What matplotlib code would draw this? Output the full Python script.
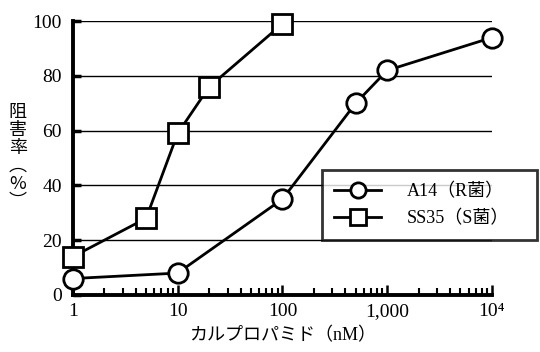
import matplotlib
matplotlib.use('Agg')
import matplotlib.pyplot as plt
from matplotlib.ticker import FixedLocator, LogLocator, NullFormatter

plt.rcParams['font.family'] = ['Liberation Serif', 'Noto Sans CJK JP', 'DejaVu Sans']

# A14 (R strain)
a14_conc = [1, 10, 100, 500, 1000, 10000]
a14_inhib = [6, 8, 35, 70, 82, 94]
# SS35 (S strain)
ss35_conc = [1, 5, 10, 20, 100]
ss35_inhib = [14, 28, 59, 76, 99]

yticks = [0, 20, 40, 60, 80, 100]
xticks = [1, 10, 100, 1000, 10000]
xticklabels = ['1', '10', '100', '1,000', '10⁴']

fig = plt.figure(figsize=(5.4, 3.52), dpi=100)
ax = fig.add_axes([0.135, 0.162, 0.776, 0.778])

for y in yticks[1:]:
    ax.axhline(y, color='black', lw=1.0, zorder=1)

ax.plot(ss35_conc, ss35_inhib, color='black', lw=2.0, marker='s', ms=14,
        mfc='white', mec='black', mew=2.0, clip_on=False, zorder=3,
        label='SS35（S菌）')
ax.plot(a14_conc, a14_inhib, color='black', lw=2.0, marker='o', ms=14,
        mfc='white', mec='black', mew=2.0, clip_on=False, zorder=3,
        label='A14（R菌）')

ax.set_xscale('log')
ax.set_xlim(1, 10000)
ax.set_ylim(0, 100)
ax.xaxis.set_major_locator(FixedLocator(xticks))
ax.set_xticklabels(xticklabels)
ax.xaxis.set_minor_locator(LogLocator(base=10, subs=range(2, 10)))
ax.xaxis.set_minor_formatter(NullFormatter())
ax.set_yticks(yticks)

for s in ['top', 'right']:
    ax.spines[s].set_visible(False)
for s in ['left', 'bottom']:
    ax.spines[s].set_linewidth(2.8)

ax.tick_params(axis='x', which='major', direction='in', length=7, width=1.8,
               labelsize=14, pad=6)
ax.tick_params(axis='x', which='minor', direction='in', length=5, width=1.5)
ax.tick_params(axis='y', direction='in', length=6, width=2.5, labelsize=14, pad=8)

ax.set_xlabel('カルプロパミド（nM）', fontsize=13, labelpad=5)

fig.text(0.033, 0.555, '阻\n害\n率\n︵\n%\n︶', fontsize=13, ha='center',
         va='center', linespacing=1.0,
         family=['Noto Sans CJK JP', 'DejaVu Sans'])

h, l = ax.get_legend_handles_labels()
leg = fig.legend(h[::-1], l[::-1], loc='upper left', mode='expand',
                 bbox_to_anchor=(0.596, 0.304, 0.398, 0.213), fontsize=13,
                 frameon=True, fancybox=False, edgecolor='black',
                 handlelength=2.6, borderpad=0.7, labelspacing=0.55,
                 handletextpad=1.4, borderaxespad=0)
leg.get_frame().set_linewidth(2.0)
for lh in leg.legend_handles:
    lh.set_markersize(11)

fig.savefig('out.png', dpi=100)
